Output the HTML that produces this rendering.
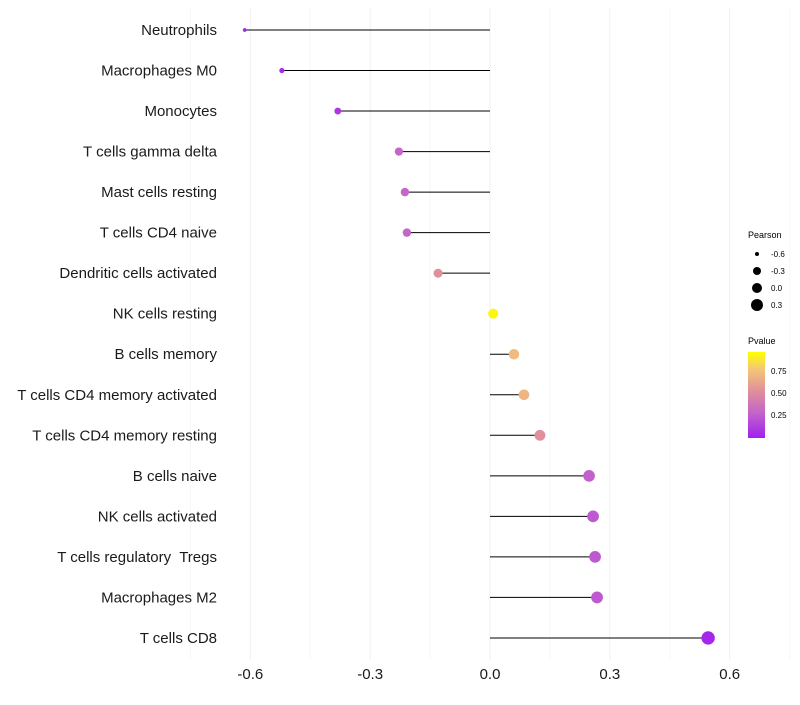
<!DOCTYPE html>
<html><head><meta charset="utf-8"><style>
body{margin:0;background:#fff;font-family:"Liberation Sans",sans-serif}
</style></head><body>
<svg id="chart" width="800" height="700" xmlns="http://www.w3.org/2000/svg" font-family="Liberation Sans, sans-serif">
<defs><linearGradient id="pg" x1="0" y1="1" x2="0" y2="0">
<stop offset="0" stop-color="#a020f0"/><stop offset="0.3" stop-color="#c466c8"/><stop offset="0.55" stop-color="#e0909a"/><stop offset="0.8" stop-color="#f4c678"/><stop offset="1" stop-color="#ffff00"/></linearGradient></defs>
<g id="grid"></g><g id="marks"></g><g id="labels"></g>
<g font-size="9">
<text x="748" y="238" fill="#000">Pearson</text>
<circle cx="757" cy="254" r="2"/><text x="771" y="257" font-size="8">-0.6</text>
<circle cx="757" cy="271" r="4"/><text x="771" y="274" font-size="8">-0.3</text>
<circle cx="757" cy="288" r="5"/><text x="771" y="291" font-size="8">0.0</text>
<circle cx="757" cy="305" r="6"/><text x="771" y="308" font-size="8">0.3</text>
</g>
<g font-size="8">
<text x="748" y="344" font-size="9">Pvalue</text>
<rect x="748" y="352" width="17" height="86" fill="url(#pg)"/>
<text x="771" y="374">0.75</text><text x="771" y="396">0.50</text><text x="771" y="418">0.25</text>
</g>
</svg>
<script>
const categories=["Neutrophils","Macrophages M0","Monocytes","T cells gamma delta","Mast cells resting","T cells CD4 naive","Dendritic cells activated","NK cells resting","B cells memory","T cells CD4 memory activated","T cells CD4 memory resting","B cells naive","NK cells activated","T cells regulatory  Tregs","Macrophages M2","T cells CD8"];
const pearson=[-0.614,-0.521,-0.381,-0.228,-0.213,-0.208,-0.130,0.008,0.060,0.085,0.125,0.248,0.258,0.263,0.268,0.546];
const pvalues=[0.02,0.05,0.1,0.3,0.3,0.3,0.55,0.97,0.75,0.72,0.55,0.28,0.25,0.25,0.25,0.03];
const xTicks=[-0.6,-0.3,0.0,0.3,0.6];
const xTickLabels=["-0.6","-0.3","0.0","0.3","0.6"];
const NS="http://www.w3.org/2000/svg";
const x=v=>490+v*399.5;
const y=i=>30+i*40.53;
const r=v=>Math.sqrt(Math.max(2,25.3+35.6*v));
const stops=[[0,[160,32,240]],[0.3,[196,102,200]],[0.55,[224,144,154]],[0.8,[244,198,120]],[1,[255,255,0]]];
function col(p){for(let k=1;k<stops.length;k++){if(p<=stops[k][0]){const a=stops[k-1],b=stops[k],t=(p-a[0])/(b[0]-a[0]);return "rgb("+a[1].map((c,j)=>Math.round(c+(b[1][j]-c)*t)).join(",")+")";}}return "rgb(255,255,0)";}
function mk(t,at,parent){const e=document.createElementNS(NS,t);for(const k in at)e.setAttribute(k,at[k]);parent.appendChild(e);return e;}
const grid=document.getElementById('grid'),marks=document.getElementById('marks'),labels=document.getElementById('labels');
for(let v=-0.75;v<=0.76;v+=0.15){const gl=mk('line',{x1:x(v),x2:x(v),y1:8,y2:660,stroke:Math.abs(Math.round(v/0.15))%2==1?'#f7f7f7':'#efefef','stroke-width':1},grid);

}
categories.forEach((c,i)=>{
const ln=mk('line',{x1:x(0),x2:x(pearson[i]),y1:y(i),y2:y(i),stroke:'#000','stroke-width':1},marks);


const pt=mk('circle',{cx:x(pearson[i]),cy:y(i),r:r(pearson[i]),fill:col(pvalues[i])},marks);


const tl=mk('text',{x:217,y:y(i)+5,'text-anchor':'end','font-size':15,fill:'#1a1a1a'},labels);tl.textContent=c;
tl.setAttribute('style','white-space:pre');

});
xTicks.forEach((v,i)=>{const t=mk('text',{x:x(v),y:679,'text-anchor':'middle','font-size':15,fill:'#1a1a1a'},labels);t.textContent=xTickLabels[i];

});
</script>
</body></html>
